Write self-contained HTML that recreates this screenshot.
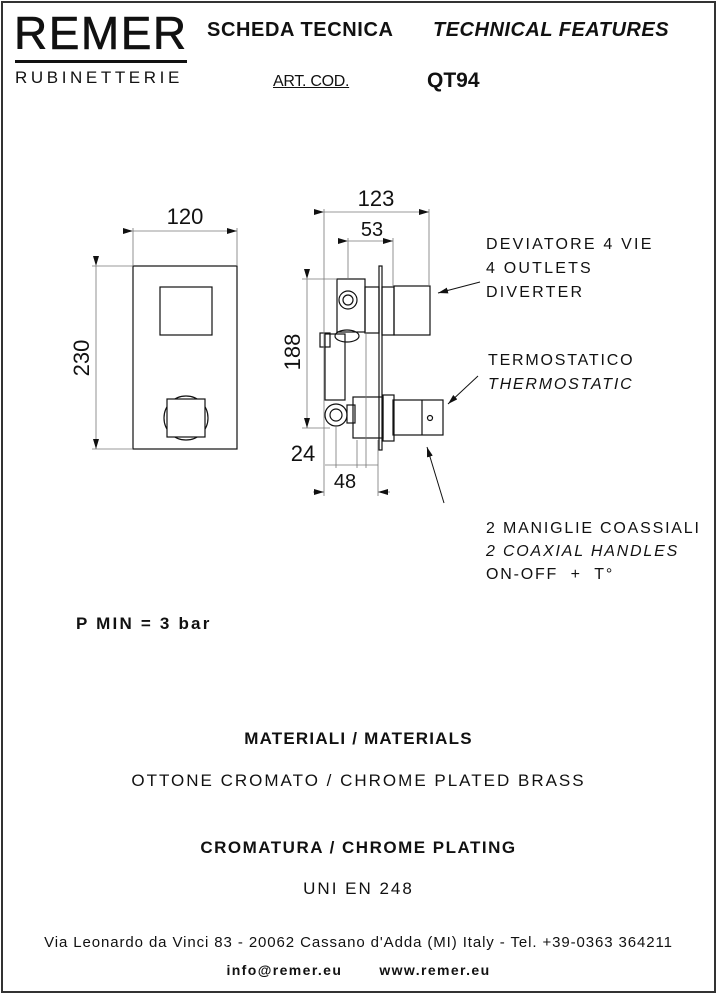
<!DOCTYPE html>
<html><head><meta charset="utf-8"><style>
html,body{margin:0;padding:0;background:#fff}
#p{position:relative;width:717px;height:994px;overflow:hidden;font-family:"Liberation Sans",sans-serif;color:#111}
.t{position:absolute;white-space:nowrap}
</style></head><body><div id="p">
<div style="position:absolute;left:1px;top:1px;width:711px;height:988px;border:2px solid #333"></div>
<div class="t" style="left:14px;top:10px;font-size:46px;letter-spacing:1.5px;line-height:46px;-webkit-text-stroke:0.6px #111">REMER</div>
<div style="position:absolute;left:15px;top:60px;width:172px;height:3px;background:#111"></div>
<div class="t" style="left:15px;top:68px;font-size:17px;letter-spacing:3.6px">RUBINETTERIE</div>
<div class="t" style="left:207px;top:19px;font-size:20px;font-weight:bold;letter-spacing:0.6px">SCHEDA TECNICA</div>
<div class="t" style="left:433px;top:19px;font-size:20px;font-weight:bold;font-style:italic;letter-spacing:0.5px">TECHNICAL FEATURES</div>
<div class="t" style="left:273px;top:73px;font-size:16px;letter-spacing:-0.3px;text-decoration:underline">ART. COD.</div>
<div class="t" style="left:427px;top:69px;font-size:21px;font-weight:bold">QT94</div>

<svg style="position:absolute;left:0;top:0" width="717" height="994" font-family="Liberation Sans" fill="none" stroke="#111">
<defs><marker id="a" markerWidth="10" markerHeight="6" refX="10" refY="3" orient="auto" markerUnits="userSpaceOnUse"><path d="M0,0L10,3L0,6z" fill="#111" stroke="none"/></marker></defs>
<g stroke-width="1.2">
<rect x="133" y="266" width="104" height="183"/>
<rect x="160" y="287" width="52" height="48"/>
<circle cx="186" cy="418" r="22"/>
<rect x="167" y="399" width="38" height="38" fill="#fff"/>
</g>
<g stroke="#777" stroke-width="0.8">
<line x1="133" y1="228" x2="133" y2="266"/><line x1="237" y1="228" x2="237" y2="266"/>
<line x1="133" y1="231" x2="237" y2="231" marker-start="url(#a)" marker-end="url(#a)"/>
<line x1="92" y1="266" x2="133" y2="266"/><line x1="92" y1="449" x2="133" y2="449"/>
<line x1="96" y1="266" x2="96" y2="449" marker-start="url(#a)" marker-end="url(#a)"/>
</g>
<text x="185" y="224" font-size="22" fill="#111" stroke="none" text-anchor="middle">120</text>
<text transform="translate(89,358) rotate(-90)" font-size="22" fill="#111" stroke="none" text-anchor="middle">230</text>
<g stroke-width="1.2">
<rect x="379" y="266" width="3" height="184"/>
<rect x="382" y="287" width="12" height="48"/>
<rect x="394" y="286" width="36" height="49"/>
<rect x="337" y="279" width="28" height="53"/>
<rect x="365" y="287" width="14" height="46"/>
<circle cx="348" cy="300" r="9"/><circle cx="348" cy="300" r="5"/>
<ellipse cx="347" cy="336" rx="12" ry="6"/>
<rect x="325" y="334" width="20" height="66"/>
<rect x="320" y="333" width="10" height="14"/>
<circle cx="336" cy="415" r="11"/><circle cx="336" cy="415" r="6"/>
<rect x="347" y="405" width="8" height="18"/>
<rect x="353" y="397" width="30" height="41"/>
<rect x="383" y="395" width="11" height="46"/>
<rect x="393" y="400" width="50" height="35"/>
<line x1="422" y1="400" x2="422" y2="435"/>
<circle cx="430" cy="418" r="2.5"/>
</g>
<g stroke="#777" stroke-width="0.8">
<line x1="324" y1="209" x2="324" y2="437"/><line x1="429" y1="209" x2="429" y2="285"/>
<line x1="324" y1="212" x2="429" y2="212" marker-start="url(#a)" marker-end="url(#a)"/>
<line x1="348" y1="238" x2="348" y2="280"/><line x1="393" y1="238" x2="393" y2="286"/>
<line x1="348" y1="241" x2="393" y2="241" marker-start="url(#a)" marker-end="url(#a)"/>
<line x1="302" y1="279" x2="337" y2="279"/><line x1="302" y1="428" x2="330" y2="428"/>
<line x1="307" y1="279" x2="307" y2="428" marker-start="url(#a)" marker-end="url(#a)"/>
<line x1="336" y1="426" x2="336" y2="468"/><line x1="366" y1="332" x2="366" y2="468"/><line x1="357" y1="440" x2="357" y2="468"/>
<line x1="325" y1="465" x2="378" y2="465"/>
<line x1="324" y1="437" x2="324" y2="496"/><line x1="378" y1="440" x2="378" y2="496"/>
<line x1="313" y1="492" x2="324" y2="492" marker-end="url(#a)"/><line x1="390" y1="492" x2="378" y2="492" marker-end="url(#a)"/>
</g>
<g fill="#111" stroke="none" font-size="22" text-anchor="middle">
<text x="376" y="206">123</text>
<text x="372" y="236" font-size="20">53</text>
<text transform="translate(300,352) rotate(-90)">188</text>
<text x="303" y="461">24</text>
<text x="345" y="488" font-size="20">48</text>
</g>
<g stroke-width="1">
<line x1="480" y1="282" x2="438" y2="293" marker-end="url(#a)"/>
<line x1="478" y1="376" x2="448" y2="404" marker-end="url(#a)"/>
<line x1="444" y1="503" x2="427" y2="447" marker-end="url(#a)"/>
</g>
</svg>
<div class="t" style="left:486px;top:233px;font-size:16px;line-height:24px;letter-spacing:2.2px">DEVIATORE 4 VIE<br>4 OUTLETS<br>DIVERTER</div>
<div class="t" style="left:488px;top:349px;font-size:16px;line-height:24px;letter-spacing:1.8px">TERMOSTATICO<br><i>THERMOSTATIC</i></div>
<div class="t" style="left:486px;top:517px;font-size:16px;line-height:23px;letter-spacing:1.8px">2 MANIGLIE COASSIALI<br><i>2 COAXIAL HANDLES</i><br>ON-OFF &nbsp;+ &nbsp;T°</div>
<div class="t" style="left:76px;top:614px;font-size:17px;font-weight:bold;letter-spacing:2.2px">P MIN = 3 bar</div>
<div class="t" style="left:0;width:717px;text-align:center;top:729px;font-size:17px;font-weight:bold;letter-spacing:1.2px">MATERIALI / MATERIALS</div>
<div class="t" style="left:0;width:717px;text-align:center;top:771px;font-size:17px;letter-spacing:2px">OTTONE CROMATO / CHROME PLATED BRASS</div>
<div class="t" style="left:0;width:717px;text-align:center;top:838px;font-size:17px;font-weight:bold;letter-spacing:1.5px">CROMATURA / CHROME PLATING</div>
<div class="t" style="left:0;width:717px;text-align:center;top:879px;font-size:17px;letter-spacing:2px">UNI EN 248</div>
<div class="t" style="left:0;width:717px;text-align:center;top:934px;font-size:15px;letter-spacing:0.9px">Via Leonardo da Vinci 83 - 20062 Cassano d'Adda (MI) Italy - Tel. +39-0363 364211</div>
<div class="t" style="left:0;width:717px;text-align:center;top:962px;font-size:14px;font-weight:bold;letter-spacing:1.4px">info@remer.eu &nbsp; &nbsp; &nbsp; www.remer.eu</div>
</div></body></html>
